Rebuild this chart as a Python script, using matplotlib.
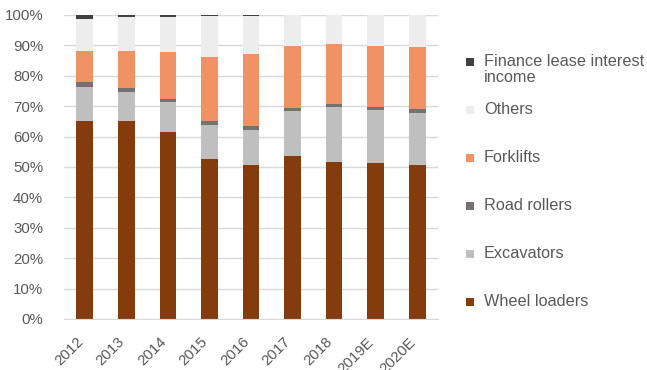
import matplotlib
matplotlib.use("Agg")
import matplotlib.pyplot as plt
from matplotlib.patches import Rectangle
from matplotlib.transforms import ScaledTranslation
import numpy as np

categories = ["2012", "2013", "2014", "2015", "2016", "2017", "2018", "2019E", "2020E"]
wheel_loaders = [65.2, 65.0, 61.6, 52.6, 50.7, 53.5, 51.6, 51.3, 50.8]
excavators = [11.2, 9.7, 9.7, 11.1, 11.5, 14.9, 18.0, 17.45, 17.1]
road_rollers = [1.5, 1.4, 1.2, 1.5, 1.3, 1.1, 1.2, 1.05, 1.1]
forklifts = [10.3, 12.1, 15.2, 21.1, 23.7, 20.4, 19.5, 20.1, 20.6]
others = [10.4, 11.2, 11.8, 13.4, 12.6, 10.1, 9.7, 10.1, 10.4]
finance_lease = [1.4, 0.6, 0.5, 0.3, 0.2, 0.0, 0.0, 0.0, 0.0]

series = [
    ("Wheel loaders", wheel_loaders, "#843C0C"),
    ("Excavators", excavators, "#BFBFBF"),
    ("Road rollers", road_rollers, "#767171"),
    ("Forklifts", forklifts, "#F19264"),
    ("Others", others, "#EDEDED"),
    ("Finance lease interest\nincome", finance_lease, "#404040"),
]

plt.rcParams['font.family'] = ['Liberation Sans', 'DejaVu Sans']
fig = plt.figure(figsize=(6.47, 3.70), dpi=100)
ax = fig.add_axes([64/647, 1-319/370, (438-64)/647, (319-15)/370])

x = np.arange(len(categories))
bottom = np.zeros(len(categories))
for name, vals, col in series:
    v = np.array(vals, dtype=float)
    ax.bar(x, v, width=0.4, bottom=bottom, color=col, edgecolor="none", zorder=3)
    bottom += v

ax.set_xlim(-0.5, len(categories) - 0.5)
ax.set_ylim(0, 100)
ax.set_yticks(np.arange(0, 101, 10))
ax.set_yticklabels([f"{t}%" for t in range(0, 101, 10)])
ax.yaxis.grid(True, color="#D9D9D9", linewidth=1, zorder=0)
for s in ["top", "right", "left"]:
    ax.spines[s].set_visible(False)
ax.spines["bottom"].set_color("#D9D9D9")
ax.spines["bottom"].set_zorder(4)
ax.tick_params(axis="both", length=0, labelsize=10.8, colors="#595959")
ax.tick_params(axis="y", pad=15)
ax.set_xticks(x)
ax.set_xticklabels(categories, rotation=45, ha="right", va="center", rotation_mode="anchor")
ax.tick_params(axis="x", pad=15)
off = ScaledTranslation(-4/100, 0, fig.dpi_scale_trans)
for lbl in ax.get_xticklabels():
    lbl.set_transform(lbl.get_transform() + off)

# manual legend
legend_y = [62, 110, 158, 206, 254, 302]
for (name, vals, col), yp in zip(reversed(series), legend_y):
    fig.patches.append(Rectangle((466/647, 1 - (yp + 4)/370), 8/647, 8/370,
                                 transform=fig.transFigure, facecolor=col, edgecolor="none"))
    fig.text(484/647, 1 - (yp - 8)/370, name, ha="left", va="top",
             fontsize=11.7, color="#595959", linespacing=1.05)

fig.savefig("out.png", dpi=100)
